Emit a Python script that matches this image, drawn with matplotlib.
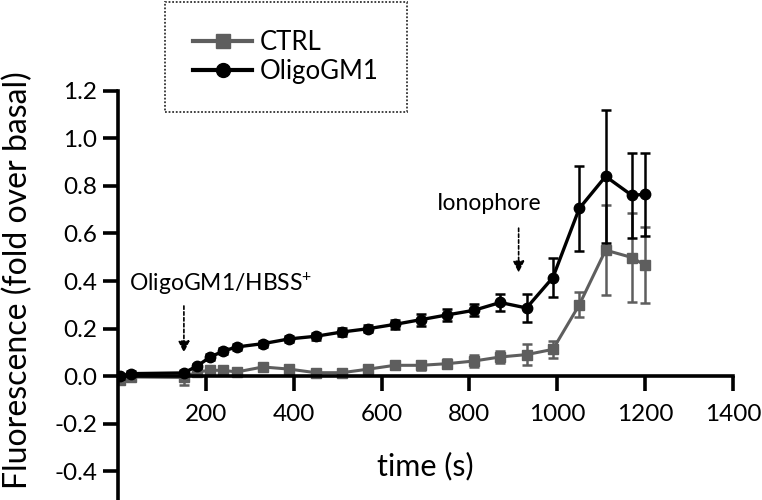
import matplotlib
matplotlib.use("Agg")
import matplotlib.pyplot as plt
from matplotlib.lines import Line2D

plt.rcParams["font.family"] = ["Lato", "DejaVu Sans"]
plt.rcParams["mathtext.fontset"] = "custom"
plt.rcParams["mathtext.rm"] = "Lato"
plt.rcParams["mathtext.default"] = "rm"

# time points (s)
time = [5, 30, 150, 180, 210, 240, 270, 330, 390, 450, 510, 570, 630, 690,
        750, 810, 870, 930, 990, 1050, 1110, 1170, 1200]

# CTRL mean and SEM
ctrl = [-0.015, -0.003, -0.005, 0.018, 0.025, 0.025, 0.018, 0.039, 0.03,
        0.015, 0.015, 0.03, 0.046, 0.046, 0.053, 0.064, 0.081, 0.091,
        0.113, 0.30, 0.53, 0.499, 0.466]
ctrl_err = [0.01, 0.01, 0.03, 0.01, 0.01, 0.01, 0.01, 0.01, 0.01, 0.01,
            0.01, 0.01, 0.015, 0.02, 0.02, 0.025, 0.025, 0.043, 0.035,
            0.052, 0.19, 0.185, 0.16]

# OligoGM1 mean and SEM
oligo = [0.0, 0.011, 0.014, 0.043, 0.081, 0.106, 0.123, 0.137, 0.157,
         0.168, 0.186, 0.20, 0.218, 0.238, 0.258, 0.277, 0.31, 0.287,
         0.415, 0.705, 0.84, 0.76, 0.765]
oligo_err = [0.01, 0.01, 0.01, 0.01, 0.012, 0.012, 0.012, 0.012, 0.012,
             0.015, 0.015, 0.015, 0.02, 0.025, 0.025, 0.025, 0.035, 0.058,
             0.08, 0.18, 0.28, 0.18, 0.175]

ctrl_color = "#5e5e5e"

fig = plt.figure(figsize=(7.62, 5.0), dpi=100)
ax = fig.add_axes([118 / 762, 0.0, (733 - 118) / 762, 1 - 90.7 / 500])

ax.errorbar(time, ctrl, yerr=ctrl_err, color=ctrl_color, ecolor=ctrl_color,
            marker="s", markersize=7, linewidth=2.2, elinewidth=1.8,
            capsize=3.5, capthick=1.8, zorder=2)
ax.errorbar(time, oligo, yerr=oligo_err, color="black", ecolor="black",
            marker="o", markersize=7.5, linewidth=2.4, elinewidth=1.8,
            capsize=3.5, capthick=1.8, zorder=3)

ax.set_xlim(0, 1400)
ax.set_ylim(-0.52, 1.2)
ax.set_xticks([200, 400, 600, 800, 1000, 1200, 1400])
ax.set_yticks([-0.4, -0.2, 0.0, 0.2, 0.4, 0.6, 0.8, 1.0, 1.2])
ax.set_yticklabels([f"{v:.1f}" for v in ax.get_yticks()])

ax.spines["top"].set_visible(False)
ax.spines["right"].set_visible(False)
ax.spines["bottom"].set_position(("data", 0))
ax.spines["left"].set_linewidth(2.6)
ax.spines["bottom"].set_linewidth(2.6)
ax.tick_params(axis="y", direction="out", length=11, width=2.6,
               labelsize=17.5, pad=4)
ax.tick_params(axis="x", direction="out", length=11, width=2.6,
               labelsize=17.5, pad=9)

ax.set_xlabel("time (s)", fontsize=22)
ax.xaxis.set_label_coords(0.5, 0.083)
ax.xaxis.label.set_va("center")
ax.set_ylabel("Fluorescence (fold over basal)", fontsize=23)
ax.yaxis.set_label_coords(-0.163, 0.537)
ax.yaxis.label.set_va("center")

# treatment annotations
arrow = dict(arrowstyle="-|>", linestyle=(0, (2, 1.5)), color="black",
             lw=1.2, mutation_scale=17)
ax.annotate("", xy=(150, 0.088), xytext=(150, 0.307), arrowprops=arrow)
ax.text(234, 0.39, "OligoGM1/HBSS$^{+}$", ha="center", va="center",
        fontsize=16.5)
ax.annotate("", xy=(912, 0.424), xytext=(912, 0.634), arrowprops=arrow)
ax.text(846, 0.727, "Ionophore", ha="center", va="center", fontsize=16.5)

handles = [
    Line2D([], [], color=ctrl_color, marker="s", markersize=10, linewidth=3),
    Line2D([], [], color="black", marker="o", markersize=10, linewidth=3),
]
leg = fig.legend(handles, ["CTRL", "OligoGM1"], loc="upper left",
                 bbox_to_anchor=(165 / 762, 1 - 2 / 500), borderaxespad=0,
                 fontsize=18.5, frameon=True, fancybox=False, borderpad=1.1,
                 labelspacing=0.15, handlelength=2.3, handletextpad=0.3)
frame = leg.get_frame()
frame.set_edgecolor("black")
frame.set_linestyle((0, (1, 1)))
frame.set_linewidth(1.3)

fig.savefig("out.png", dpi=100)
